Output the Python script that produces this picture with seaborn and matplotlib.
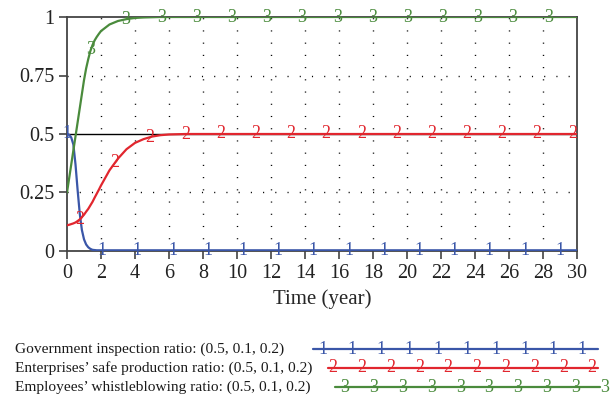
import numpy as np
import pandas as pd
import matplotlib
matplotlib.use("Agg")
import matplotlib.pyplot as plt
from matplotlib.lines import Line2D
import seaborn as sns

# ---------------- data ----------------
time = [0, 0.125, 0.25, 0.375, 0.5, 0.625, 0.75, 0.875, 1.0, 1.125, 1.25, 1.375,
        1.5, 1.625, 1.75, 1.875, 2.0, 2.5, 3.0, 3.5, 4.0, 4.5, 5.0, 5.5, 6.0, 7.0,
        8, 10, 12, 14, 16, 18, 20, 22, 24, 26, 28, 30]
government = [0.50, 0.497, 0.485, 0.455, 0.37, 0.26, 0.16, 0.09, 0.05, 0.028, 0.016, 0.009,
              0.005, 0.004, 0.003, 0.003, 0.003, 0.003, 0.003, 0.003, 0.003, 0.003, 0.003, 0.003, 0.003, 0.003,
              0.003, 0.003, 0.003, 0.003, 0.003, 0.003, 0.003, 0.003, 0.003, 0.003, 0.003, 0.003]
enterprises = [0.110, 0.112, 0.115, 0.118, 0.122, 0.128, 0.135, 0.145, 0.155, 0.168, 0.18, 0.195,
               0.21, 0.228, 0.245, 0.262, 0.28, 0.345, 0.395, 0.435, 0.462, 0.478, 0.489, 0.495, 0.498, 0.5,
               0.5, 0.5, 0.5, 0.5, 0.5, 0.5, 0.5, 0.5, 0.5, 0.5, 0.5, 0.5]
employees = [0.25, 0.31, 0.37, 0.43, 0.49, 0.55, 0.61, 0.67, 0.73, 0.78, 0.82, 0.855,
             0.88, 0.90, 0.915, 0.928, 0.94, 0.968, 0.983, 0.991, 0.996, 0.998, 0.999, 1.0, 1.0, 1.0,
             1.0, 1.0, 1.0, 1.0, 1.0, 1.0, 1.0, 1.0, 1.0, 1.0, 1.0, 1.0]

series_names = ["Government inspection ratio: (0.5, 0.1, 0.2)",
                "Enterprises\u2019 safe production ratio: (0.5, 0.1, 0.2)",
                "Employees\u2019 whistleblowing ratio: (0.5, 0.1, 0.2)"]
series_ids = ["1", "2", "3"]
colors = ["#3a56a8", "#e1262e", "#4a8b3c"]
marker_start = [0.0, 0.75, 1.4]
marker_step = 2.07

x_ticks = list(range(0, 31, 2))
y_ticks = [0, 0.25, 0.5, 0.75, 1]
y_tick_labels = ["0", "0.25", "0.5", "0.75", "1"]
x_label = "Time (year)"

# ---------------- figure ----------------
sns.set_theme(style="white")
plt.rcParams['font.family'] = ['Liberation Serif', 'DejaVu Serif']

W, H = 615, 400
fig = plt.figure(figsize=(W / 100, H / 100), dpi=100)
ax = fig.add_axes([67 / W, 1 - 251 / H, 510 / W, 234 / H])

# grid
for x in x_ticks[1:-1]:
    ax.axvline(x, color="black", lw=1.0, ls=(0, (0.8, 8)), zorder=1)
for y in [0.25, 0.75]:
    ax.axhline(y, color="black", lw=1.0, ls=(0, (0.8, 8)), zorder=1)
ax.axhline(0.5, color="black", lw=1.0, zorder=1)

series_values = [government, enterprises, employees]
df = pd.DataFrame({
    "time": time * 3,
    "value": government + enterprises + employees,
    "series": [n for n in series_names for _ in time],
})
sns.lineplot(data=df, x="time", y="value", hue="series", hue_order=series_names,
             palette=colors, estimator=None, lw=1.6, legend=False, ax=ax, zorder=3)

for vals, sid, col, st in zip(series_values, series_ids, colors, marker_start):
    ts = np.arange(st, 30.0, marker_step)
    vs = np.interp(ts, time, vals)
    for t, v in zip(ts, vs):
        ax.text(t, v, sid, color=col, ha="center", va="center", fontsize=13, zorder=4,
                clip_on=False)

ax.set_xlim(0, 30)
ax.set_ylim(0, 1)
ax.set_xticks(x_ticks)
ax.set_yticks(y_ticks)
ax.set_yticklabels(y_tick_labels)
ax.set_xlabel(x_label, fontsize=15, labelpad=5)
ax.set_ylabel("")
for s in ax.spines.values():
    s.set_visible(True)
    s.set_color("#444444")
    s.set_linewidth(1.3)
ax.tick_params(axis="both", direction="out", length=6, width=1.1, color="#333333",
               labelsize=14.5, labelcolor="#222222", bottom=True, left=True, pad=3)

# ---------------- legend (drawn in pixel space) ----------------
lax = fig.add_axes([0, 0, 1, 1])
lax.set_xlim(0, W)
lax.set_ylim(H, 0)
lax.axis("off")
rows_y = [349, 368, 387]
line_x = [(313, 598), (328, 598), (335, 600)]
num_x0 = [323, 333, 345]
for name, sid, col, yy, (x0, x1), nx in zip(series_names, series_ids, colors, rows_y, line_x, num_x0):
    lax.text(15, yy, name, ha="left", va="center", fontsize=11.1, color="#1a1a1a")
    lax.add_line(Line2D([x0, x1], [yy, yy], color=col, lw=1.6))
    for k in range(10):
        lax.text(nx + 28.8 * k, yy, sid, color=col, ha="center", va="center", fontsize=13)

fig.savefig("out.png", dpi=100)
